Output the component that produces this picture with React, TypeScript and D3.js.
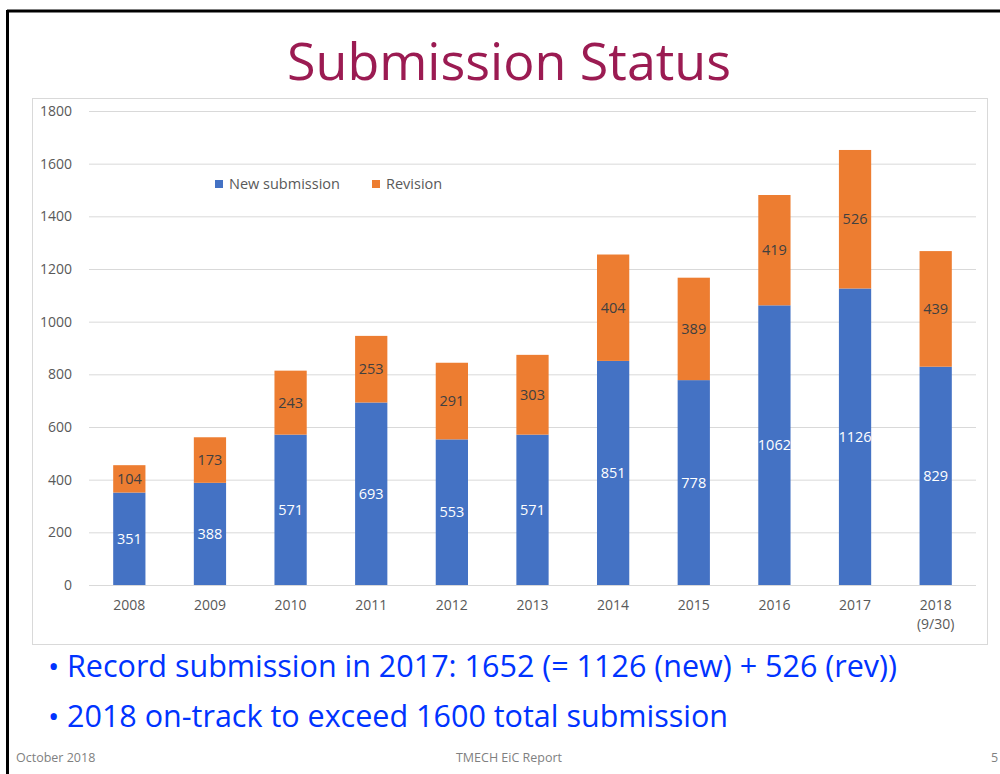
import React, { useEffect, useRef } from 'react';
import * as d3 from 'd3';

const years = ['2008', '2009', '2010', '2011', '2012', '2013', '2014', '2015', '2016', '2017', '2018'];
const newSubmission = [351, 388, 571, 693, 553, 571, 851, 778, 1062, 1126, 829];
const revision = [104, 173, 243, 253, 291, 303, 404, 389, 419, 526, 439];
const yTicks = [0, 200, 400, 600, 800, 1000, 1200, 1400, 1600, 1800];
const bullets = [
  'Record submission in 2017: 1652 (= 1126 (new) + 526 (rev))',
  '2018 on-track to exceed 1600 total submission',
];

const FONT = "'Open Sans', 'Noto Sans', sans-serif";

const App: React.FC = () => {
  const svgRef = useRef<SVGSVGElement | null>(null);

  useEffect(() => {
    if (!svgRef.current) return;
    const svg = d3.select(svgRef.current);
    svg.selectAll('*').remove();

    // slide frame
    svg.append('line').attr('x1', 7).attr('x2', 1000).attr('y1', 11).attr('y2', 11)
      .attr('stroke', '#000').attr('stroke-width', 3);
    svg.append('line').attr('x1', 7.5).attr('x2', 7.5).attr('y1', 10).attr('y2', 774)
      .attr('stroke', '#000').attr('stroke-width', 3);

    // title
    svg.append('text').attr('x', 509).attr('y', 80).attr('text-anchor', 'middle')
      .attr('font-family', FONT).attr('font-size', 52).attr('fill', '#9B1B52')
      .text('Submission Status');

    // chart box
    svg.append('rect').attr('x', 32.5).attr('y', 98.5).attr('width', 955).attr('height', 546)
      .attr('fill', '#fff').attr('stroke', '#d9d9d9');

    const x = d3.scaleBand().domain(years).range([89, 976]).paddingInner(0.6).paddingOuter(0.3);
    const y = d3.scaleLinear().domain([0, 1800]).range([585, 111]);

    const g = svg.append('g');

    // gridlines
    g.selectAll('.grid').data(yTicks).enter().append('line')
      .attr('x1', 89).attr('x2', 976)
      .attr('y1', d => y(d) + 0.5).attr('y2', d => y(d) + 0.5)
      .attr('stroke', '#d9d9d9').attr('stroke-width', 1);

    // y tick labels
    g.selectAll('.ylab').data(yTicks).enter().append('text')
      .attr('x', 72).attr('y', d => y(d) + 5).attr('text-anchor', 'end')
      .attr('font-family', FONT).attr('font-size', 14).attr('fill', '#595959')
      .text(d => d);

    // x labels
    years.forEach((yr, i) => {
      const cx = (x(yr) as number) + x.bandwidth() / 2;
      g.append('text').attr('x', cx).attr('y', 610).attr('text-anchor', 'middle')
        .attr('font-family', FONT).attr('font-size', 14).attr('fill', '#595959').text(yr);
      if (i === years.length - 1) {
        g.append('text').attr('x', cx).attr('y', 629).attr('text-anchor', 'middle')
          .attr('font-family', FONT).attr('font-size', 14).attr('fill', '#595959').text('(9/30)');
      }
    });

    // bars
    years.forEach((yr, i) => {
      const bx = x(yr) as number;
      const w = x.bandwidth();
      const n = newSubmission[i];
      const r = revision[i];
      g.append('rect').attr('x', bx).attr('y', y(n)).attr('width', w).attr('height', y(0) - y(n))
        .attr('fill', '#4472C4');
      g.append('rect').attr('x', bx).attr('y', y(n + r)).attr('width', w).attr('height', y(n) - y(n + r))
        .attr('fill', '#ED7D31');
      g.append('text').attr('x', bx + w / 2).attr('y', y(n / 2) + 5).attr('text-anchor', 'middle')
        .attr('font-family', FONT).attr('font-size', 14.5).attr('fill', '#fff').text(n);
      g.append('text').attr('x', bx + w / 2).attr('y', y(n + r / 2) + 5).attr('text-anchor', 'middle')
        .attr('font-family', FONT).attr('font-size', 14.5).attr('fill', '#404040').text(r);
    });

    // legend
    const legend = [
      { label: 'New submission', color: '#4472C4', x: 215 },
      { label: 'Revision', color: '#ED7D31', x: 372 },
    ];
    legend.forEach(l => {
      svg.append('rect').attr('x', l.x).attr('y', 180).attr('width', 8).attr('height', 8).attr('fill', l.color);
      svg.append('text').attr('x', l.x + 14).attr('y', 189).attr('font-family', FONT)
        .attr('font-size', 14.5).attr('fill', '#595959').text(l.label);
    });

    // bullets
    bullets.forEach((b, i) => {
      const by = 677 + i * 50;
      svg.append('text').attr('x', 48).attr('y', by).attr('font-family', FONT)
        .attr('font-size', 30).attr('fill', '#0033FF').text('•');
      svg.append('text').attr('x', 67).attr('y', by).attr('font-family', FONT)
        .attr('font-size', 30.5).attr('fill', '#0033FF').text(b);
    });

    // footer
    svg.append('text').attr('x', 16).attr('y', 762).attr('font-family', FONT)
      .attr('font-size', 12.5).attr('fill', '#7f7f7f').text('October 2018');
    svg.append('text').attr('x', 509).attr('y', 762).attr('text-anchor', 'middle').attr('font-family', FONT)
      .attr('font-size', 12.5).attr('fill', '#7f7f7f').text('TMECH EiC Report');
    svg.append('text').attr('x', 991).attr('y', 762).attr('font-family', FONT)
      .attr('font-size', 12.5).attr('fill', '#7f7f7f').text('5');
  }, []);

  return (
    <svg ref={svgRef} width={1000} height={774}
      style={{ position: 'absolute', left: 0, top: 0, background: '#fff' }} />
  );
};

export default App;
